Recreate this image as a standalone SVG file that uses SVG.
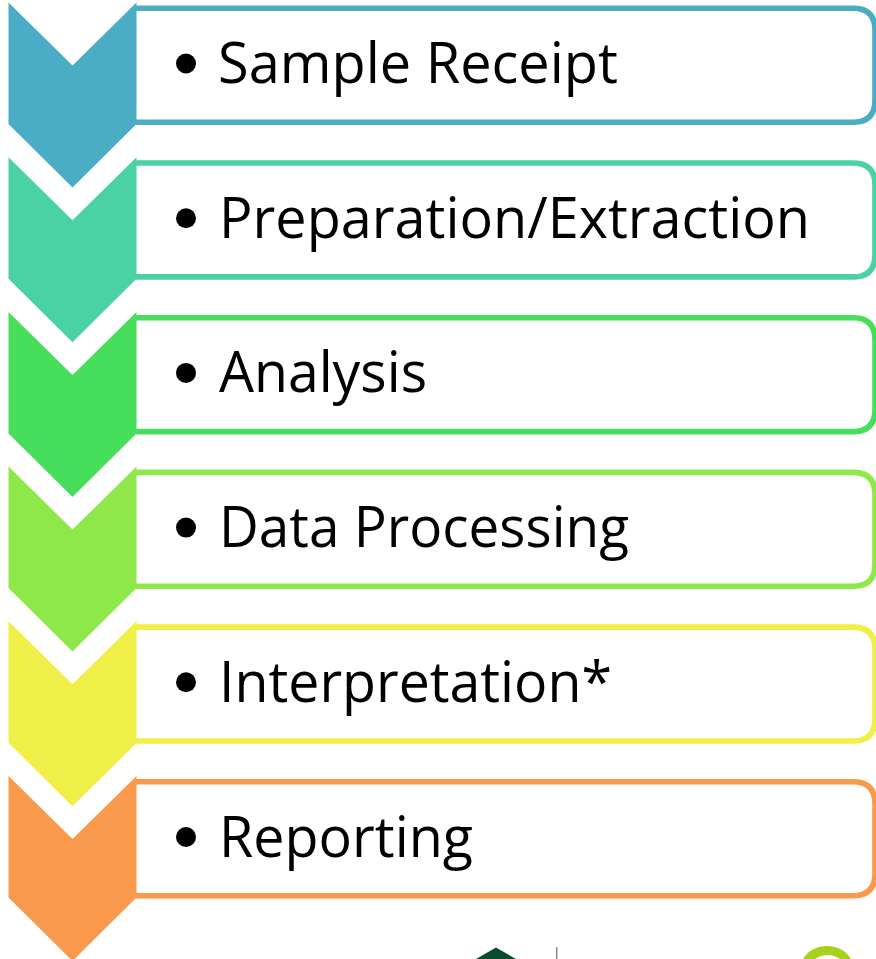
<svg xmlns="http://www.w3.org/2000/svg" width="876" height="959" viewBox="0 0 876 959">
<style>
.box{fill:#fff;stroke-width:5.6}
.t{font-family:"Open Sans","Noto Sans","Liberation Sans",sans-serif;font-size:57px;fill:#000}
</style>
<defs>
<path id="chev" d="M8.500 2.500L72.500 65.500L136.500 2.500V124L72.500 187.500L8.500 124Z"/>
<path id="frame" d="M136 8.300H853Q875 8.300 875 30.300V100.200Q875 122.200 853 122.200H136"/>
</defs>
<rect width="876" height="959" fill="#fff"/>
<g id="step1"><use href="#frame" class="box" stroke="#4bacc6"/><use href="#chev" fill="#4bacc6"/><circle cx="186" cy="63.500" r="10"/><text class="t" x="218" y="83" textLength="400" lengthAdjust="spacingAndGlyphs">Sample Receipt</text></g>
<g id="step2" transform="translate(0 154.700)"><use href="#frame" class="box" stroke="#4bd2a4"/><use href="#chev" fill="#4bd2a4"/><circle cx="186" cy="63.500" r="10"/><text class="t" x="219" y="83" textLength="591" lengthAdjust="spacingAndGlyphs">Preparation/Extraction</text></g>
<g id="step3" transform="translate(0 309.400)"><use href="#frame" class="box" stroke="#47de5b"/><use href="#chev" fill="#47de5b"/><circle cx="186" cy="63.500" r="10"/><text class="t" x="219" y="83" textLength="208" lengthAdjust="spacingAndGlyphs">Analysis</text></g>
<g id="step4" transform="translate(0 464.100)"><use href="#frame" class="box" stroke="#8ee84a"/><use href="#chev" fill="#8ee84a"/><circle cx="186" cy="63.500" r="10"/><text class="t" x="219" y="83" textLength="410" lengthAdjust="spacingAndGlyphs">Data Processing</text></g>
<g id="step5" transform="translate(0 618.800)"><use href="#frame" class="box" stroke="#f0ef47"/><use href="#chev" fill="#f0ef47"/><circle cx="186" cy="63.500" r="10"/><text class="t" x="219" y="83" textLength="393" lengthAdjust="spacingAndGlyphs">Interpretation*</text></g>
<g id="step6" transform="translate(0 773.500)"><use href="#frame" class="box" stroke="#f9994b"/><use href="#chev" fill="#f9994b"/><circle cx="186" cy="63.500" r="10"/><text class="t" x="219" y="83" textLength="254" lengthAdjust="spacingAndGlyphs">Reporting</text></g>
<path d="M496 947.500L476 959H516Z" fill="#0b4a2a"/>
<path d="M556.700 947V959" stroke="#8a8a8a" stroke-width="1.500" fill="none"/>
<path d="M803 959C808 951 816 946 827 946C838 946 846 951 851 959H840C836 956.500 832 955 827.500 955C823 955 819 956.500 815 959Z" fill="#a6d11c"/>
</svg>
